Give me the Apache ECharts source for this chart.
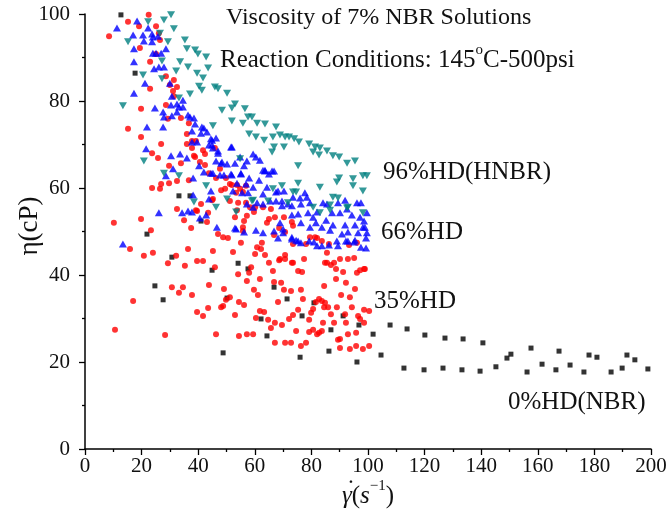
<!DOCTYPE html>
<html><head><meta charset="utf-8">
<script src="https://cdn.jsdelivr.net/npm/echarts@6/dist/echarts.min.js"></script>
<style>html,body{margin:0;padding:0;background:#fff}#c{width:670px;height:514px}</style>
</head><body><div id="c"></div>
<script>
const seriesNames = ['0%HD(NBR)', '35%HD', '66%HD', '96%HD(HNBR)'];
const xTicks = [0,20,40,60,80,100,120,140,160,180,200];
const yTicks = [0,20,40,60,80,100];

const hd0 = [[12.7,99.8],[17.7,86.4],[21.9,49.4],[24.7,37.5],[27.6,34.3],[30.7,44.1],[33.2,58.2],[37.1,58.2],[41,52.4],[44.9,41.1],[48.8,22.1],[50.2,34.7],[54.1,42.7],[57.6,41.4],[62.2,29.9],[64.3,26.0],[66.8,37.2],[71.4,34.5],[76,21.1],[76.7,30.6],[80.9,33.6],[86.2,22.5],[86.9,27.4],[91.2,30.6],[96.1,20.0],[96.8,28.5],[101.8,26.4],[104.6,21.6],[107.8,28.5],[112.7,18.6],[113.8,27.6],[119.8,18.2],[120.1,26.2],[126.5,18.6],[127.2,25.5],[133.2,18.2],[133.6,25.3],[139.6,17.9],[140.6,24.4],[145.2,18.9],[149.1,20.9],[150.5,21.8],[156.2,17.7],[157.6,23.2],[161.5,19.5],[166.4,18.2],[167.5,22.5],[171.4,19.3],[176.3,17.7],[178.1,21.6],[180.9,21.1],[185.9,17.7],[189.8,18.6],[191.5,21.6],[194.3,20.5],[198.9,18.4]];

const hd35 = [[8.5,94.9],[15.2,98.2],[19.1,97.2],[22.5,99.8],[25.1,97.2],[26.1,95.6],[26.5,94.0],[19.4,92.2],[25.1,90.8],[23,89.0],[28.6,85.7],[31.4,84.8],[30,83.7],[32.5,83.2],[23,82.8],[31.1,82.3],[31.4,81.1],[19.8,78.2],[28.6,79.1],[29.3,75.9],[33.9,76.1],[36.7,74.9],[15.2,73.6],[19.8,71.7],[26.9,70.1],[36,72.4],[37.8,70.8],[36,70.1],[37.8,69.2],[39.2,70.8],[38.9,67.1],[41.7,68.7],[42.4,65.3],[45.9,69.2],[23.7,68.0],[25.8,66.9],[33.9,65.7],[29.7,65.1],[38.5,67.4],[40.6,66.0],[42.4,67.8],[43.8,63.4],[46.3,62.3],[47.7,64.4],[49.8,62.3],[51.2,60.9],[36.7,61.8],[32.5,61.6],[29.7,61.1],[26.9,60.9],[23.7,60.0],[26.5,59.8],[48.1,59.5],[49.5,59.8],[53.4,58.9],[55.8,59.1],[54.8,59.8],[44.9,57.2],[41,56.3],[39.2,54.9],[32.5,55.2],[43.5,54.3],[43.1,52.2],[35,52.6],[37.5,50.8],[19.8,52.9],[10.2,52.0],[23.3,50.3],[47,49.4],[48.8,48.7],[50.5,48.5],[15.9,46.0],[36.4,46.0],
[51.9,60.7],[53.7,60.7],[56.9,60.5],[51.2,57.0],[54.1,56.6],[53,53.3],[57.2,53.6],[56.2,52.4],[58.3,55.6],[60.1,55.6],[59.7,54.5],[65.7,55.2],[67.1,53.3],[65,52.9],[64.3,52.0],[55.8,51.0],[55.8,50.1],[73.1,52.2],[73.5,51.3],[68.6,50.8],[70.7,49.9],[66.8,49.2],[73.5,47.1],[78.1,47.1],[79.5,48.7],[81.3,48.7],[82,48.5],[83.7,47.8],[86.2,47.1],[55.1,47.4],[52.3,45.3],[60.8,46.4],[62.2,46.0],[62.5,47.4],[60.1,44.8],[63.6,44.6],[68.9,43.7],[70.7,44.6],[70.7,43.7],[73.5,42.8],[77.4,43.7],[85.5,45.1],[85.5,42.8],[90.1,43.7],[92.9,43.7],[95.1,43.9],[98.6,41.4],[93.3,46.9],[96.1,47.4],[88,42.8],
[62.9,55.6],[70.3,53.3],[56.9,56.6],[53.7,54.9],[45.2,57.5],[39.6,54.7],
[20.8,44.4],[24,45.1],[32.2,44.4],[29.3,42.7],[39.6,43.2],[41.7,43.2],[45.9,41.8],[35.3,42.1],[45.2,45.5],[17,34.0],[10.6,27.4],[30.7,37.2],[34.6,37.2],[33.2,35.9],[37.8,35.4],[43.8,37.7],[49.1,36.8],[49.8,34.3],[39.6,31.5],[43.5,32.4],[41.7,30.6],[48.1,32.6],[48.8,32.9],[28.3,26.2],[46.3,26.4],
[58.7,41.8],[54.1,40.2],[58,40.5],[65,42.8],[66.4,40.9],[68.6,43.4],[73.1,42.8],[57.2,38.6],[61.8,39.1],[66.8,38.4],[69.3,38.2],[75.3,40.9],[76.7,40.7],[70.3,36.6],[72.8,36.3],[76.3,36.6],[59.7,36.6],[61.1,35.4],[51.2,34.9],[54.4,33.8],[56.2,33.1],[53,30.8],[61.8,31.7],[63.3,31.5],[68.2,33.8],[77,34.5],[75.3,32.0],[60.4,30.1],[64.7,29.7],[67.1,29.0],[65.7,27.8],[69.6,28.5],[72.1,29.9],[73.5,30.8],[79.2,29.7],[79.9,31.3],[80.6,32.2],[82.7,34.5],[83.7,34.0],[84.8,33.6],[81.6,33.8],[84.5,32.6],[85.9,32.6],[89,32.6],[86.9,31.0],[91.9,31.0],[94.3,32.6],[98.6,32.0],[100.4,31.7],[96.5,30.6],[97.2,29.9],[98.6,29.0],[92.2,29.0],[88,29.0],[84.1,29.0],[54.4,26.0],[57.2,26.4],[59.4,26.4],[74.6,27.1],[79.2,26.9],[80.6,27.4],[82,26.4],[82.7,26.7],[83.7,27.1],[89.4,25.1],[90.1,25.3],[92.9,26.4],[95.8,26.7],[67.1,24.4],[70.7,24.4],[72.8,24.4],[76.3,23.7],[78.1,24.4],[90.1,23.2],[93.6,23.0],[95.8,23.7],[98.2,23.0],[100.4,23.7],[88.7,39.1],[92.2,38.2],[95.4,36.8],[90.5,35.4],[93.6,34.9],[84.5,37.5],[84.8,42.8],[86.9,42.3],[88.7,41.4],[91.2,40.7],[96.1,40.5],[97.2,41.1],[98.9,41.4]];

const hd66 = [[11.3,96.8],[18.4,98.4],[22.3,96.8],[17,95.2],[20.5,95.2],[23.7,95.4],[24,94.7],[25.8,94.9],[20.8,93.8],[23.7,93.6],[17.3,92.0],[28.6,92.0],[24,91.0],[25.1,91.0],[26.9,91.0],[26.1,87.8],[27.9,87.8],[17.3,89.0],[24.4,87.4],[21.2,84.1],[30,84.1],[17.3,81.8],[30.7,81.1],[30.4,79.1],[32.5,79.3],[34.6,80.2],[33.2,78.6],[34.6,78.6],[27.6,77.5],[30.7,76.6],[32.5,77.5],[36.4,76.8],[37.1,76.3],[38.5,76.1],[27.9,76.3],[38.9,74.7],[41.3,74.0],[21.9,74.0],[24.7,78.4],[27.6,74.0],[42,73.8],[44.9,71.0],[51.6,69.4],[47,68.0],[59.4,67.8],[61.8,66.4],[48.1,65.7],[42,63.7],[44.5,63.4],[51.6,63.2],[55.1,63.4],[62.9,64.1],[66.1,63.9],[38.2,62.3],[30.4,67.4],[37.8,73.1],[41,72.6],[43.1,72.9],[44.5,71.3],[46.3,71.5],[39.6,70.6],[37.8,70.6],[43.8,69.9],[44.9,69.9],[45.2,69.2],[47,68.5],[21.6,69.0],[33.6,67.8],[36,66.9],[40.3,65.1],[31.1,64.4],[28.6,62.8],[45.2,63.4],[46.3,66.2],[48.4,66.0],[50.2,65.5],[47.7,63.0],[49.1,63.0],[44.5,59.3],[38.2,58.4],[43.8,57.5],[37.8,54.5],[36.4,54.7],[34.3,54.3],[26.1,54.3],[42.8,53.8],[40.6,53.1],[46.6,51.0],[13.4,47.1],[53.4,50.6],[56.2,49.9],[60.4,50.3],[62.9,49.7],[66.8,50.1],[68.2,48.5],[70,49.7],[73.1,48.3],[74.6,48.0],[76.3,47.4],[79.2,47.8],[80.9,47.6],[82,46.7],[83.7,46.7],[86.2,46.9],[89.4,46.7],[92.2,47.8],[95.1,47.6],[97.5,46.4],[99.3,46.2],[99.6,49.7],[98.2,51.0],[98.6,52.4],[97.5,56.6],[96.1,56.6],
[51.9,63.0],[55.1,63.2],[63.6,63.9],[65,63.2],[66.8,63.9],[53.7,61.1],[56.9,60.9],[59.4,60.2],[61.5,61.8],[64.3,60.2],[67.5,59.1],[70.3,59.3],[68.2,59.3],[52.3,59.3],[55.5,58.9],[57.6,58.9],[62.9,58.6],[73.5,57.9],[76,57.7],[77.7,58.9],[78.4,57.9],[65.4,57.0],[67.5,57.0],[69.6,57.0],[60.8,56.6],[62.9,56.3],[57.2,56.3],[59.4,55.6],[69.6,55.9],[71.7,56.3],[73.1,55.9],[76.3,56.3],[79.5,56.6],[84.1,56.6],[85.5,56.3],[89.4,56.6],[91.9,57.2],[78.8,54.3],[80.6,53.3],[82,54.5],[85.2,52.6],[87.3,54.3],[90.1,54.3],[92.6,55.2],[94.3,53.8],[97.2,53.3],[99.6,54.3],[73.1,53.8],[75.3,54.0],[76.3,52.0],[81.6,52.0],[79.5,51.0],[83.7,51.0],[86.6,50.3],[87.6,51.5],[91.9,51.5],[95.4,51.5],[98.9,51.0],[92.9,49.9],[90.8,49.4],[96.5,49.7],[95.4,48.0],[92.9,47.8],[99.3,48.5],[89,47.8],[53,50.8],[70,50.6],[68.9,52.0],[73.1,48.7],[75.3,47.8],
[51.9,69.4],[54.8,67.1],[60.4,67.1],[57.2,66.2],[56.2,65.1],[53,65.7],[63.6,64.1],[58,62.3]];

const hd96 = [[30.4,99.8],[22.3,98.2],[27.9,98.6],[26.5,95.6],[31.4,96.6],[35.3,94.0],[29.3,93.6],[15.2,93.6],[36,92.0],[38.9,91.7],[39.9,90.8],[42.8,90.1],[33.6,89.0],[27.2,89.2],[36.4,87.8],[43.5,87.6],[32.2,86.9],[39.6,86.4],[41.7,85.3],[27.2,85.1],[20.5,86.0],[40.3,83.4],[45.9,83.2],[47,82.8],[37.1,81.6],[41.3,82.5],[50.2,81.8],[33.2,80.7],[13.4,78.9],[48.4,77.9],[51.9,78.4],[53,79.3],[56.5,78.2],[51.9,75.4],[57.6,76.3],[59,76.3],[55.8,74.9],[60.8,74.9],[63.6,74.7],[67.5,74.0],[45.2,74.3],[58,72.4],[60.4,71.7],[63.3,71.0],[66.4,71.7],[68.9,72.2],[70.7,71.7],[72.1,71.7],[73.9,71.3],[75.6,70.6],[70.3,69.4],[79.2,70.1],[81.3,69.4],[83,69.2],[85.5,68.5],[87.6,67.4],[89.8,67.1],[92.6,65.7],[95.4,66.2],[98.2,62.8],[99.6,62.8],[94.7,62.1],[89,61.4],[98.2,59.3],[89.4,57.7],[83,60.2],[75.3,61.1],[75.3,65.1],[66.8,69.4],[66.1,68.3],[80.6,68.3],[82.7,67.6],[73.5,59.1],[64.7,57.0],[50.2,57.5],[54.8,66.7],[27.9,63.4],[33.2,62.8],[20.8,66.2],[42.8,60.5],[38.5,56.8],[46.3,55.6],[59.4,57.2],[80.6,55.6],[83,54.3],[86.6,54.9],[92.9,55.6],[98.2,54.3],[89.8,62.3],[94.7,60.5],[69.6,60.5],[66.4,59.8],[74.6,59.1],[59,57.0],[71.7,56.6],[87.6,57.9],[86.6,56.1],[92.6,55.4],[53.4,54.5]];

const FONT = '"Liberation Serif", "Times New Roman", serif';
const chart = echarts.init(document.getElementById('c'), null, {renderer: 'canvas'});

const axisCommon = {
  axisLine: {show: true, onZero: false, lineStyle: {color: '#000', width: 1.5}},
  axisTick: {show: true, inside: false, length: 6, lineStyle: {color: '#000', width: 1.3}},
  minorTick: {show: true, splitNumber: 2, length: 3, lineStyle: {color: '#000', width: 1.3}},
  splitLine: {show: false},
  minorSplitLine: {show: false},
  axisLabel: {color: '#111', fontFamily: FONT, fontSize: 21}
};

function txt(text, x, y, size, extra) {
  return {type: 'text', style: Object.assign({text: text, x: x, y: y, font: size + 'px ' + FONT, fill: '#111', align: 'left', verticalAlign: 'middle'}, extra || {})};
}

const option = {
  animation: false,
  backgroundColor: '#fff',
  grid: {left: 85, right: 19, top: 14, bottom: 65, containLabel: false, outerBoundsMode: 'none'},
  xAxis: Object.assign({}, axisCommon, {
    type: 'value', min: xTicks[0], max: xTicks[xTicks.length-1], interval: 20,
    axisLabel: Object.assign({}, axisCommon.axisLabel, {margin: 7, showMaxLabel: true, showMinLabel: true})
  }),
  yAxis: Object.assign({}, axisCommon, {
    type: 'value', min: yTicks[0], max: yTicks[yTicks.length-1], interval: 20,
    axisLabel: Object.assign({}, axisCommon.axisLabel, {margin: 15, showMaxLabel: true, showMinLabel: true})
  }),
  series: [
    {name: seriesNames[0], type: 'scatter', data: hd0, symbol: 'rect', symbolSize: 5, itemStyle: {color: '#000000'}, z: 2},
    {name: seriesNames[1], type: 'scatter', data: hd35, symbol: 'circle', symbolSize: 6, itemStyle: {color: '#ff0000'}, z: 3},
    {name: seriesNames[2], type: 'scatter', data: hd66, symbol: 'triangle', symbolSize: [8, 7], itemStyle: {color: '#0000ff'}, z: 4},
    {name: seriesNames[3], type: 'scatter', data: hd96, symbol: 'triangle', symbolRotate: 180, symbolSize: [8, 7], itemStyle: {color: '#008080'}, z: 5}
  ],
  graphic: [
    txt('Viscosity of 7% NBR Solutions', 226, 18, 24),
    {type: 'text', style: {
      x: 220, y: 58, align: 'left', verticalAlign: 'middle',
      text: '{n|Reaction Conditions: 145}{s|o}{n|C-500psi}',
      rich: {
        n: {fontFamily: FONT, fontSize: 25, fill: '#111', lineHeight: 30, verticalAlign: 'bottom'},
        s: {fontFamily: FONT, fontSize: 15, fill: '#111', lineHeight: 30, verticalAlign: 'top'}
      }}},
    txt('96%HD(HNBR)', 383, 172, 25),
    txt('66%HD', 381, 232, 25),
    txt('35%HD', 374, 301, 25),
    txt('0%HD(NBR)', 508, 402, 25),
    {type: 'text', x: 30, y: 226, rotation: Math.PI/2, style: {text: 'η(cP)', font: '27px ' + FONT, fill: '#111', align: 'center', verticalAlign: 'middle'}},
    {type: 'text', style: {
      x: 368, y: 494, align: 'center', verticalAlign: 'middle',
      text: '{i|γ}{n|(}{i|s}{s|−1}{n|)}',
      rich: {
        i: {fontFamily: FONT, fontStyle: 'italic', fontSize: 25, fill: '#111', lineHeight: 30, verticalAlign: 'bottom'},
        n: {fontFamily: FONT, fontSize: 25, fill: '#111', lineHeight: 30, verticalAlign: 'bottom'},
        s: {fontFamily: FONT, fontSize: 15, fill: '#111', lineHeight: 30, verticalAlign: 'top'}
      }}},
    txt('˙', 351, 490, 25, {align: 'center'})
  ]
};
chart.setOption(option);
</script>
</body></html>
